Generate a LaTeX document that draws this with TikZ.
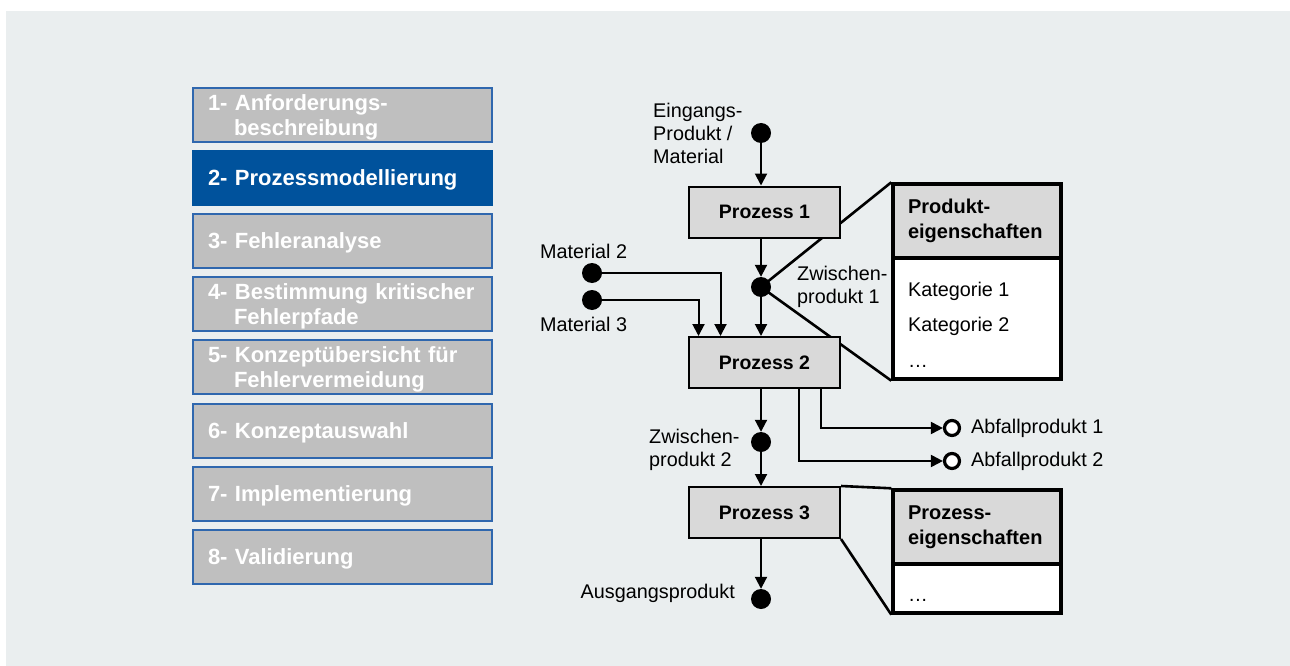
\documentclass[tikz,border=0pt]{standalone}
\usepackage{fontspec}
\setmainfont{Liberation Sans}
\usetikzlibrary{arrows.meta,calc}
\definecolor{bgcol}{HTML}{EAEEEF}
\definecolor{stepgray}{HTML}{BFBFBF}
\definecolor{stepblue}{HTML}{00529C}
\definecolor{stepedge}{HTML}{2F67AE}
\definecolor{boxgray}{HTML}{D9D9D9}
\pgfdeclarelayer{back}
\pgfdeclarelayer{under}
\pgfsetlayers{back,under,main}
\begin{document}
\begin{tikzpicture}[x=1pt,y=-1pt,
  stepbox/.style={draw=stepedge, line width=1.8pt, fill=stepgray, text=white,
    font=\fontsize{22}{25}\selectfont\bfseries, minimum width=299pt, minimum height=54pt,
    text width=269pt, text depth=0pt, inner xsep=15pt, inner ysep=0pt, align=left},
  twostep/.style={stepbox, text depth=25pt},
  activestep/.style={stepbox, fill=stepblue, draw=stepblue},
  procbox/.style={draw=black, line width=2pt, fill=boxgray, minimum width=151pt,
    minimum height=51pt, font=\fontsize{19.5}{23}\selectfont\bfseries, inner sep=0pt},
  propbox/.style={draw=black, line width=3.4pt, fill=white, minimum width=168pt, inner sep=0pt},
  prophead/.style={propbox, fill=boxgray, minimum height=74pt, text width=138pt,
    align=left, font=\fontsize{20}{25}\selectfont\bfseries},
  lbl/.style={font=\fontsize{19.8}{23}\selectfont, inner sep=0pt, align=left},
  dot/.style={circle, fill=black, minimum size=20pt, inner sep=0pt},
  odot/.style={circle, draw=black, line width=3.2pt, fill=white, minimum size=15pt, inner sep=0pt},
  flow/.style={line width=2pt, -{Triangle[length=12pt,width=12pt]}},
  link/.style={line width=2.6pt},
]
\useasboundingbox (0,0) rectangle (1290,666);
\begin{pgfonlayer}{back}
\fill[bgcol] (6,11) rectangle (1290,666);
\end{pgfonlayer}

% steps
\node[twostep]    (s1) at (342.5,115) {1- Anforderungs-\\\hspace*{26pt}beschreibung};
\node[activestep] (s2) at (342.5,178) {2- Prozessmodellierung};
\node[stepbox]    (s3) at (342.5,241) {3- Fehleranalyse};
\node[twostep]    (s4) at (342.5,304) {4- Bestimmung kritischer\\\hspace*{26pt}Fehlerpfade};
\node[twostep]    (s5) at (342.5,367) {5- Konzeptübersicht für\\\hspace*{26pt}Fehlervermeidung};
\node[stepbox]    (s6) at (342.5,431) {6- Konzeptauswahl};
\node[stepbox]    (s7) at (342.5,494) {7- Implementierung};
\node[stepbox]    (s8) at (342.5,557) {8- Validierung};

% process boxes
\node[procbox] (p1) at (764.5,212) {Prozess 1};
\node[procbox] (p2) at (764.5,362.5) {Prozess 2};
\node[procbox] (p3) at (764.5,512.5) {Prozess 3};

% dots
\node[dot] (e)  at (761,133) {};
\node[dot] (z1) at (761,287) {};
\node[dot] (z2) at (761,442) {};
\node[dot] (aus) at (761,599) {};
\node[dot] (m2) at (592,273) {};
\node[dot] (m3) at (592,300) {};
\node[odot] (a1) at (952,428) {};
\node[odot] (a2) at (952,461) {};

% property boxes
\node[propbox, minimum height=195pt] (pe) at (977,281.5) {};
\node[prophead, anchor=north] (peh) at (pe.north) {Produkt-\\eigenschaften};
\node[lbl, anchor=base west] (k1) at (908,296) {Kategorie 1};
\node[lbl, anchor=base west] (k2) at (908,331) {Kategorie 2};
\node[lbl, anchor=base west] (k3) at (908,367) {…};

\node[propbox, minimum height=123pt] (pp) at (977,551.5) {};
\node[prophead, anchor=north] (pph) at (pp.north) {Prozess-\\eigenschaften};
\node[lbl, anchor=base west] (k4) at (908,601) {…};

% labels
\node[lbl, anchor=north west] (le)  at (653,103) {Eingangs-\\Produkt /\\Material};
\node[lbl, anchor=base west]  (lm2) at (540,258) {Material 2};
\node[lbl, anchor=base west]  (lm3) at (540,331) {Material 3};
\node[lbl, anchor=north west] (lz1) at (797,266) {Zwischen-\\produkt 1};
\node[lbl, anchor=north west] (lz2) at (649,429) {Zwischen-\\produkt 2};
\node[lbl, anchor=base east]  (la)  at (735,598) {Ausgangsprodukt};
\node[lbl, anchor=base west]  (la1) at (971,433) {Abfallprodukt 1};
\node[lbl, anchor=base west]  (la2) at (971,466) {Abfallprodukt 2};

% connectors behind boxes
\begin{pgfonlayer}{under}
\draw[link] (z1.center) -- (pe.north west);
\draw[link] (z1.center) -- (pe.south west);
\draw[link] (p3.north east) -- (pp.north west);
\draw[link] (p3.south east) -- (pp.south west);
\end{pgfonlayer}

% flow arrows
\draw[flow] (e) -- (e |- p1.north);
\draw[flow] (z1 |- p1.south) -- (z1.north);
\draw[flow] (z1) -- (z1 |- p2.north);
\draw[flow] (m2) -| ([xshift=-44pt]p2.north);
\draw[flow] (m3) -| ([xshift=-66pt]p2.north);
\draw[flow] (z2 |- p2.south) -- (z2.north);
\draw[flow] ([xshift=56pt]p2.south) |- (a1.west);
\draw[flow] ([xshift=34pt]p2.south) |- (a2.west);
\draw[flow] (z2) -- (z2 |- p3.north);
\draw[flow] (aus |- p3.south) -- (aus.north);
\end{tikzpicture}
\end{document}
